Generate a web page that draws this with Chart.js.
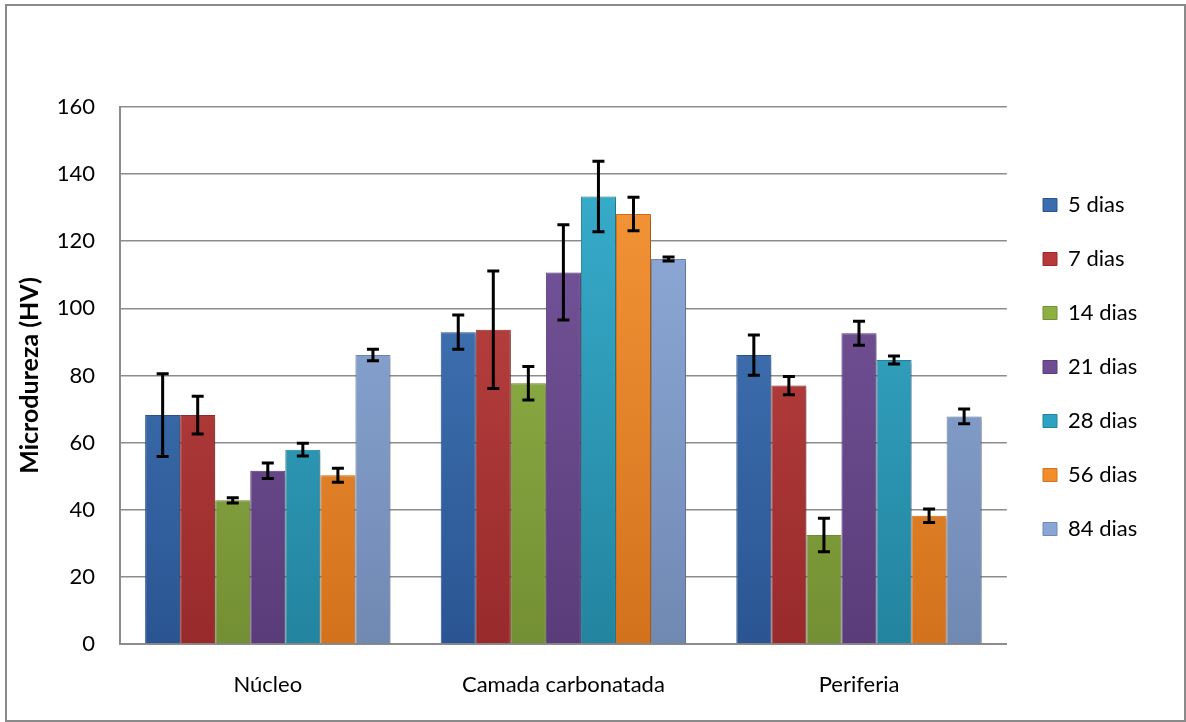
<!DOCTYPE html>
<html lang="pt">
<head>
  <meta charset="UTF-8" />
  <title>Microdureza (HV)</title>
  <script src="https://cdn.jsdelivr.net/npm/chart.js"></script>
  <style>
    html, body { margin: 0; padding: 0; background: #fff; }
    canvas { display: block; }
  </style>
</head>
<body>
  <canvas id="grafico" width="1186" height="722"></canvas>

  <script>
    // Dados
    const categorias = ['Núcleo', 'Camada carbonatada', 'Periferia'];
    const nomesSeries = ['5 dias', '7 dias', '14 dias', '21 dias', '28 dias', '56 dias', '84 dias'];

    const dias5  = [68.2, 92.9, 86.1];
    const dias7  = [68.2, 93.6, 77.0];
    const dias14 = [42.8, 77.7, 32.5];
    const dias21 = [51.6, 110.7, 92.6];
    const dias28 = [57.9, 133.3, 84.6];
    const dias56 = [50.3, 128.1, 38.2];
    const dias84 = [86.1, 114.7, 67.8];

    // desvio (barras de erro)
    const erro5  = [12.3, 5.1, 6.0];
    const erro7  = [5.6, 17.5, 2.7];
    const erro14 = [0.8, 5.0, 5.0];
    const erro21 = [2.3, 14.2, 3.6];
    const erro28 = [1.9, 10.5, 1.2];
    const erro56 = [2.1, 5.0, 2.0];
    const erro84 = [1.7, 0.6, 2.2];

    const eixoYMin = 0;
    const eixoYMax = 160;
    const eixoYPasso = 20;

    const valores = [dias5, dias7, dias14, dias21, dias28, dias56, dias84];
    const erros = [erro5, erro7, erro14, erro21, erro28, erro56, erro84];

    // cores (claro no topo, escuro embaixo)
    const cores = [
      { base: '#3a6cae', claro: '#4a7fc2', escuro: '#2a5592' },
      { base: '#b8393a', claro: '#c64a48', escuro: '#982a2b' },
      { base: '#8db043', claro: '#9bbf4f', escuro: '#738f33' },
      { base: '#6f4d93', claro: '#7b5aa1', escuro: '#5a3c7a' },
      { base: '#2ea2c2', claro: '#3ab2d2', escuro: '#23849f' },
      { base: '#f38d2c', claro: '#f89a3c', escuro: '#d3721c' },
      { base: '#8aa6d6', claro: '#95b1e0', escuro: '#7089b3' }
    ];

    const fonte = 'Lato, "DejaVu Sans", sans-serif';
    const corGrade = '#8c8c8c';

    function gradiente(cor) {
      return (context) => {
        const area = context.chart.chartArea;
        if (!area) return cor.base;
        const g = context.chart.ctx.createLinearGradient(0, area.top, 0, area.bottom);
        g.addColorStop(0, cor.claro);
        g.addColorStop(1, cor.escuro);
        return g;
      };
    }

    // moldura externa e fundo
    const moldura = {
      id: 'moldura',
      beforeDraw(chart) {
        const ctx = chart.ctx;
        ctx.save();
        ctx.fillStyle = '#fff';
        ctx.fillRect(0, 0, chart.width, chart.height);
        ctx.strokeStyle = '#8a8a8a';
        ctx.lineWidth = 2;
        ctx.strokeRect(6, 5, 1179, 716);
        ctx.restore();
      }
    };

    // sombra das barras + barras de erro
    const barrasErro = {
      id: 'barrasErro',
      beforeDatasetsDraw(chart) {
        const ctx = chart.ctx;
        ctx.save();
        ctx.shadowColor = 'rgba(0,0,0,0.28)';
        ctx.shadowBlur = 4;
        ctx.shadowOffsetX = 2;
        ctx.shadowOffsetY = 2;
      },
      afterDatasetsDraw(chart) {
        const ctx = chart.ctx;
        ctx.restore();
        const y = chart.scales.y;
        ctx.save();
        ctx.strokeStyle = '#000';
        ctx.lineWidth = 3;
        chart.data.datasets.forEach((ds, i) => {
          const meta = chart.getDatasetMeta(i);
          meta.data.forEach((barra, j) => {
            const v = ds.data[j];
            const e = ds.erro[j];
            const yTopo = y.getPixelForValue(v + e);
            const yBase = y.getPixelForValue(v - e);
            const x = barra.x;
            ctx.beginPath();
            ctx.moveTo(x, yTopo); ctx.lineTo(x, yBase);
            ctx.moveTo(x - 6, yTopo); ctx.lineTo(x + 6, yTopo);
            ctx.moveTo(x - 6, yBase); ctx.lineTo(x + 6, yBase);
            ctx.stroke();
          });
        });
        ctx.restore();
      }
    };

    // posiciona a legenda como no original
    const posLegenda = {
      id: 'posLegenda',
      afterLayout(chart) {
        const lg = chart.legend;
        if (!lg) return;
        const w = lg.width, h = lg.height;
        lg.left = 1043 - 32;
        lg.right = lg.left + w;
        lg.top = 367 - h / 2;
        lg.bottom = lg.top + h;
      }
    };

    const datasets = nomesSeries.map((nome, i) => ({
      label: nome,
      data: valores[i],
      erro: erros[i],
      backgroundColor: gradiente(cores[i]),
      borderColor: cores[i].escuro,
      borderWidth: 1,
      barPercentage: 1,
      categoryPercentage: 0.83
    }));

    new Chart(document.getElementById('grafico'), {
      type: 'bar',
      data: { labels: categorias, datasets },
      options: {
        responsive: false,
        animation: false,
        layout: { padding: { left: 0, top: 107, right: 43, bottom: 0 } },
        plugins: {
          tooltip: { enabled: false },
          legend: {
            position: 'right',
            fullSize: false,
            labels: {
              color: '#000',
              font: { family: fonte, size: 22 },
              boxWidth: 14,
              boxHeight: 13,
              padding: 32,
              generateLabels(chart) {
                return chart.data.datasets.map((ds, i) => ({
                  text: ds.label,
                  fillStyle: cores[i].base,
                  strokeStyle: cores[i].escuro,
                  lineWidth: 1,
                  fontColor: '#000',
                  hidden: false,
                  datasetIndex: i
                }));
              }
            }
          }
        },
        scales: {
          x: {
            grid: { display: false, drawTicks: false },
            border: { display: true, color: corGrade, width: 2 },
            ticks: {
              color: '#000',
              font: { family: fonte, size: 22 },
              padding: 28,
              maxRotation: 0
            },
            afterFit(s) { s.height = 78; }
          },
          y: {
            min: eixoYMin,
            max: eixoYMax,
            ticks: {
              stepSize: eixoYPasso,
              color: '#000',
              font: { family: fonte, size: 22 },
              padding: 25
            },
            grid: { color: corGrade, lineWidth: 1.6, drawTicks: false },
            border: { display: true, color: corGrade, width: 2 },
            title: {
              display: true,
              text: 'Microdureza (HV)',
              color: '#000',
              font: { family: fonte, size: 25, weight: 'bold' },
              padding: { top: 15, bottom: 0 }
            },
            afterFit(s) { s.width = 120; }
          }
        }
      },
      plugins: [moldura, barrasErro, posLegenda]
    });
  </script>
</body>
</html>
